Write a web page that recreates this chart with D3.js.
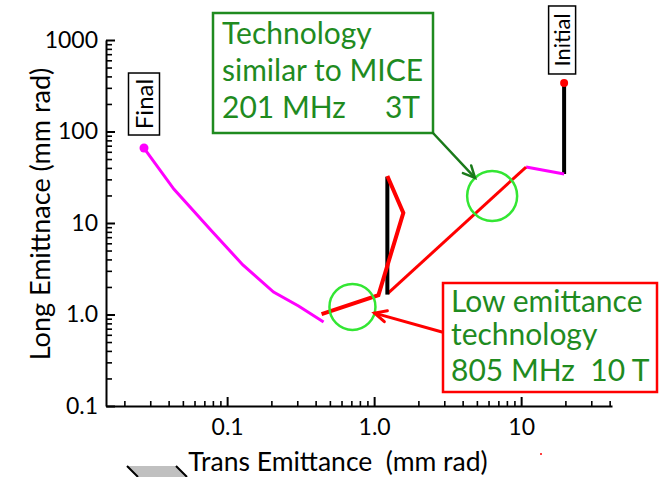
<!DOCTYPE html>
<html>
<head>
<meta charset="utf-8">
<script src="https://cdn.jsdelivr.net/npm/d3@7"></script>
<style>
  html, body { margin: 0; padding: 0; background: #fff; }
  svg { display: block; }
  text { font-family: Lato, "Open Sans", sans-serif; }
</style>
</head>
<body>
<svg id="chart" width="664" height="477"></svg>
<script>
// Emittance evolution through the cooling channel (log–log)
const xMajorTicks = [0.1, 1, 10];
const xMajorLabels = ["0.1", "1.0", "10"];
const yMajorTicks = [0.1, 1, 10, 100, 1000];
const yMajorLabels = ["0.1", "1.0", "10", "100", "1000"];

// Initial point and first (black) stage
const transInitial = [19.6, 19.6];
const longInitial = [339, 34.3];
// short magenta stage after initial
const transStage2 = [19.6, 10.8];
const longStage2 = [34.3, 40.9];
// 201 MHz / 3T long red stage
const transStage3 = [10.8, 1.24];
const longStage3 = [40.9, 1.70];
// black vertical stage
const transStage4 = [1.23, 1.23];
const longStage4 = [1.65, 32];
// 805 MHz / 10 T red zig-zag
const transStage5 = [1.23, 1.58, 1.07, 0.439];
const longStage5 = [32.6, 12.9, 1.63, 1.01];
// final magenta stage down to the final point
const transFinal = [0.0272, 0.0434, 0.0774, 0.128, 0.207, 0.306, 0.453];
const longFinal = [66, 23.5, 8.38, 3.48, 1.76, 1.24, 0.828];

// highlighted regions (trans, long)
const circleMice = [6.35, 19.7];
const circleLowEmit = [0.712, 1.21];

const svg = d3.select("#chart");
const x = d3.scaleLog().domain([0.015, 41.5]).range([106, 612]);
const y = d3.scaleLog().domain([0.1, 1000]).range([406, 40]);

function minorTicks(scale) {
  const [a, b] = scale.domain();
  const out = [];
  for (let e = Math.floor(Math.log10(a)); e <= Math.ceil(Math.log10(b)); e++) {
    for (let m = 2; m <= 9; m++) {
      const v = m * Math.pow(10, e);
      if (v >= a && v <= b) out.push(v);
    }
  }
  return out;
}

// ---- axes ----
const axisColor = "#000";
// y minor
svg.append("g").attr("transform", "translate(106,0)")
  .call(d3.axisLeft(y).tickValues(minorTicks(y)).tickFormat("").tickSizeInner(-6).tickSizeOuter(0))
  .call(g => g.select(".domain").remove())
  .call(g => g.selectAll("line").attr("stroke", axisColor).attr("stroke-width", 1.6));
// y major
svg.append("g").attr("transform", "translate(106,0)")
  .call(d3.axisLeft(y).tickValues(yMajorTicks).tickFormat((d, i) => yMajorLabels[i])
    .tickSizeInner(-9).tickSizeOuter(0).tickPadding(8))
  .call(g => g.select(".domain").attr("stroke", axisColor).attr("stroke-width", 2))
  .call(g => g.selectAll("line").attr("stroke", axisColor).attr("stroke-width", 2))
  .call(g => g.selectAll("text").attr("font-size", 23).attr("fill", "#000")
    .attr("font-family", "Lato, sans-serif"));
// x minor
svg.append("g").attr("transform", "translate(0,406)")
  .call(d3.axisBottom(x).tickValues(minorTicks(x)).tickFormat("").tickSizeInner(-5).tickSizeOuter(0))
  .call(g => g.select(".domain").remove())
  .call(g => g.selectAll("line").attr("stroke", axisColor).attr("stroke-width", 1.6));
// x major
svg.append("g").attr("transform", "translate(0,406)")
  .call(d3.axisBottom(x).tickValues(xMajorTicks).tickFormat((d, i) => xMajorLabels[i])
    .tickSizeInner(-9).tickSizeOuter(0).tickPadding(13))
  .call(g => g.select(".domain").attr("stroke", axisColor).attr("stroke-width", 2))
  .call(g => g.selectAll("line").attr("stroke", axisColor).attr("stroke-width", 2))
  .call(g => g.selectAll("text").attr("font-size", 23).attr("fill", "#000")
    .attr("font-family", "Lato, sans-serif"));

// axis titles
svg.append("text")
  .attr("transform", "translate(50,214) rotate(-90)")
  .attr("text-anchor", "middle")
  .attr("font-size", 27)
  .text("Long Emittnace (mm rad)");
svg.append("text")
  .attr("x", 338).attr("y", 471)
  .attr("text-anchor", "middle")
  .attr("font-size", 26.5)
  .style("white-space", "pre")
  .attr("xml:space", "preserve")
  .text("Trans Emittance  (mm rad)");

// ---- emittance path ----
const line = d3.line().x(d => x(d[0])).y(d => y(d[1]));
const zip = (a, b) => a.map((v, i) => [v, b[i]]);
const stages = [
  { t: transInitial, l: longInitial, c: "#000", w: 4 },
  { t: transStage2, l: longStage2, c: "#ff00ff", w: 3 },
  { t: transStage3, l: longStage3, c: "#ff0000", w: 3 },
  { t: transStage4, l: longStage4, c: "#000", w: 4 },
  { t: transStage5, l: longStage5, c: "#ff0000", w: 4 },
  { t: transFinal, l: longFinal, c: "#ff00ff", w: 3 }
];
svg.append("g").selectAll("path").data(stages).join("path")
  .attr("d", s => line(zip(s.t, s.l)))
  .attr("fill", "none")
  .attr("stroke", s => s.c)
  .attr("stroke-width", s => s.w)
  .attr("stroke-linejoin", "miter");

// end points
svg.append("circle").attr("cx", x(transInitial[0])).attr("cy", y(longInitial[0]))
  .attr("r", 4).attr("fill", "#ff0000");
svg.append("circle").attr("cx", x(transFinal[0])).attr("cy", y(longFinal[0]))
  .attr("r", 4.5).attr("fill", "#ff00ff");

// boxed vertical labels
function tagLabel(px, py, txt, w, h, fs) {
  const g = svg.append("g");
  g.append("rect").attr("x", px - w / 2).attr("y", py - h).attr("width", w).attr("height", h)
    .attr("fill", "#fff").attr("stroke", "#000").attr("stroke-width", 1.5);
  g.append("text")
    .attr("transform", `translate(${px + fs * 0.36},${py - h / 2}) rotate(-90)`)
    .attr("text-anchor", "middle").attr("font-size", fs).text(txt);
}
tagLabel(x(transFinal[0]), y(longFinal[0]) - 13, "Final", 31, 62, 24);
tagLabel(x(transInitial[0]) - 2, y(longInitial[0]) - 9, "Initial", 27, 68, 22);

// ---- annotations ----
const green = "#1f8b1f";
const lime = "#33e633";
const cM = [x(circleMice[0]), y(circleMice[1])];
const cL = [x(circleLowEmit[0]), y(circleLowEmit[1])];
svg.append("circle").attr("cx", cM[0]).attr("cy", cM[1]).attr("r", 25)
  .attr("fill", "none").attr("stroke", lime).attr("stroke-width", 2.5);
svg.append("circle").attr("cx", cL[0]).attr("cy", cL[1]).attr("r", 23)
  .attr("fill", "none").attr("stroke", lime).attr("stroke-width", 2.5);

function arrow(x0, y0, c, r, color, w) {
  const dx = c[0] - x0, dy = c[1] - y0, len = Math.hypot(dx, dy);
  const ux = dx / len, uy = dy / len;
  const tx = c[0] - ux * r, ty = c[1] - uy * r;
  const g = svg.append("g").attr("stroke", color).attr("stroke-width", w)
    .attr("fill", "none").attr("stroke-linecap", "round");
  g.append("line").attr("x1", x0).attr("y1", y0).attr("x2", tx).attr("y2", ty);
  const a = Math.atan2(uy, ux), hl = 13, sp = 0.45;
  g.append("path").attr("d",
    `M${tx - hl * Math.cos(a - sp)},${ty - hl * Math.sin(a - sp)}L${tx},${ty}L${tx - hl * Math.cos(a + sp)},${ty - hl * Math.sin(a + sp)}`);
}

// green box
svg.append("rect").attr("x", 213).attr("y", 13).attr("width", 220).attr("height", 120)
  .attr("fill", "#fff").attr("stroke", green).attr("stroke-width", 2.5);
const gText = svg.append("g").attr("fill", green).attr("font-size", 30);
gText.append("text").attr("x", 222).attr("y", 44).text("Technology");
gText.append("text").attr("x", 222).attr("y", 81).text("similar to MICE");
gText.append("text").attr("x", 222).attr("y", 118).text("201 MHz");
gText.append("text").attr("x", 420).attr("y", 118).attr("text-anchor", "end").text("3T");
arrow(433, 133, cM, 25, "#1a7a1a", 2.5);

// red box
svg.append("rect").attr("x", 443).attr("y", 283).attr("width", 214).attr("height", 109)
  .attr("fill", "#fff").attr("stroke", "#ff0000").attr("stroke-width", 2.5);
const rText = svg.append("g").attr("fill", green).attr("font-size", 30);
rText.append("text").attr("x", 451).attr("y", 312).text("Low emittance");
rText.append("text").attr("x", 451).attr("y", 345).text("technology");
rText.append("text").attr("x", 451).attr("y", 381).style("white-space", "pre")
  .attr("xml:space", "preserve").text("805 MHz  10 T");
arrow(442, 332, cL, 23, "#ff0000", 3);

// stray marks along the bottom edge
svg.append("path").attr("d", "M127,466L176,466L187,477L138,477Z")
  .attr("fill", "#c0c0c0").attr("stroke", "none");
svg.append("path").attr("d", "M127,466L138,477M176,466L187,477")
  .attr("stroke", "#000").attr("stroke-width", 2);
svg.append("rect").attr("x", 540).attr("y", 453).attr("width", 2).attr("height", 2).attr("fill", "#ff4040");
</script>
</body>
</html>
